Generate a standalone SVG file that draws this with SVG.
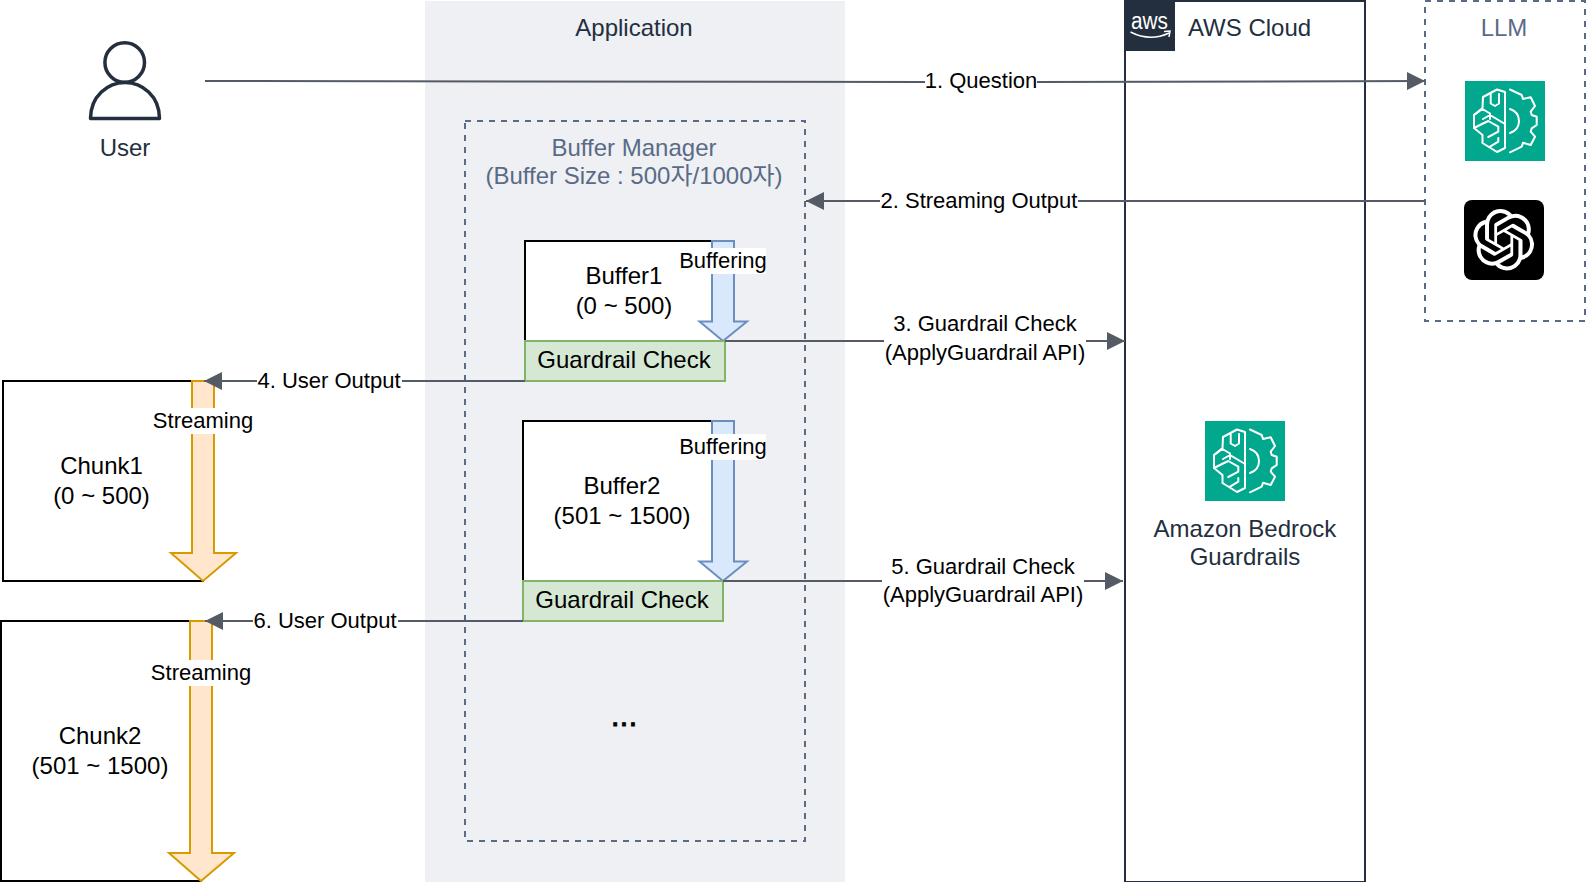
<svg xmlns="http://www.w3.org/2000/svg" width="1586" height="882" viewBox="0 0 1586 882">
<style>
text{font-family:"Liberation Sans","Noto Sans CJK KR",Arial,sans-serif;font-size:24px;fill:#000;text-anchor:middle}
.lb{font-size:22px}
.dk{fill:#232f3e}
.sl{fill:#5a6b86}
.box{fill:#fff;stroke:#000;stroke-width:2}
.grn{fill:#d5e8d4;stroke:#82b366;stroke-width:2}
.blu{fill:#dae8fc;stroke:#6c8ebf;stroke-width:2}
.org{fill:#ffe6cc;stroke:#d79b00;stroke-width:2}
.dash{fill:none;stroke:#5a6b86;stroke-width:2;stroke-dasharray:6 6}
.con{fill:none;stroke:#545b64;stroke-width:2}
.wb{fill:#fff}
.ic{fill:none;stroke:#fff;stroke-width:2;stroke-linejoin:round;stroke-linecap:round}
</style>
<defs>
<marker id="ah" markerUnits="userSpaceOnUse" markerWidth="18" markerHeight="18" refX="18" refY="9" orient="auto"><path d="M0 0L18 9L0 18z" fill="#545b64"/></marker>
<symbol id="brain" viewBox="0 0 80 80" overflow="visible">
<rect width="80" height="80" fill="#01a88d"/>
<path class="ic" d="M40 11L32 8.500L18 16L17.500 27L9 34V47L17.500 54V62L32 71L40 67V11"/>
<path class="ic" d="M25.700 13V22.500L30 25L34 22.500V13M9 34L17.500 28L25 32.500V38M18 38L25 34L40 43M9 47L17 43L23.300 40L33.300 45.700V50.700L23.300 56M25 65.700L33.300 60.700V57"/>
<path class="ic" d="M45 8.500L56.700 14L58 18L65.700 16.300L70 25L65.700 30.700L66.700 34L71.700 35.700V44L66.700 47.300L65.700 50.700L70 55.700L65.700 64L58 61.700L56.700 65.700L45 71.300"/>
<path class="ic" d="M45 28Q54 31 54 40Q54 49 45 52"/>
</symbol>
</defs>
<g id="application"><rect x="425" y="1" width="420" height="881" fill="#eef0f4"/><text class="dk" x="634" y="36">Application</text></g>
<g id="buffer-manager"><rect class="dash" x="465" y="121" width="340" height="720"/><text class="sl" x="634" y="156">Buffer Manager</text><text class="sl" x="634" y="184">(Buffer Size : 500자/1000자)</text><text x="624" y="726" style="font-size:32px;stroke:#000;stroke-width:.8">...</text></g>
<g id="user">
<circle cx="124.700" cy="62.500" r="19.800" fill="none" stroke="#232f3e" stroke-width="3.500"/>
<path d="M90.500 118.500C90.500 96 108 82.500 125 82.500C142 82.500 159.500 96 159.500 118.500Z" fill="none" stroke="#232f3e" stroke-width="3.500" stroke-linejoin="round"/>
<text class="dk" x="125" y="156">User</text>
</g>
<g id="aws-cloud">
<rect x="1125" y="1" width="240" height="881" fill="#fff" stroke="#232f3e" stroke-width="2"/>
<rect x="1124" y="0" width="51" height="51" fill="#232f3e"/>
<text x="1149.500" y="29" style="fill:#fff;font-size:23px" textLength="37" lengthAdjust="spacingAndGlyphs">aws</text>
<path d="M1130.500 32Q1150 42 1169 33M1164 31.500L1170 31L1169 37" fill="none" stroke="#fff" stroke-width="1.500"/>
<text class="dk" x="1188" y="36" style="text-anchor:start">AWS Cloud</text>
</g>
<g id="llm">
<rect class="dash" x="1425" y="1" width="160" height="320"/>
<text class="sl" x="1504" y="36">LLM</text>
</g>
<g id="llm-bedrock-icon"><use href="#brain" x="1465" y="81" width="80" height="80"/></g>
<g id="openai-icon">
<rect x="1464" y="200" width="80" height="80" rx="8" fill="#000"/>
<path transform="translate(1473 209) scale(2.56)" fill="#fff" d="M22.2819 9.8211a5.9847 5.9847 0 0 0-.5157-4.9108 6.0462 6.0462 0 0 0-6.5098-2.9A6.0651 6.0651 0 0 0 4.9807 4.1818a5.9847 5.9847 0 0 0-3.9977 2.9 6.0462 6.0462 0 0 0 .7427 7.0966 5.98 5.98 0 0 0 .511 4.9107 6.051 6.051 0 0 0 6.5146 2.9001A5.9847 5.9847 0 0 0 13.2599 24a6.0557 6.0557 0 0 0 5.7718-4.2058 5.9894 5.9894 0 0 0 3.9977-2.9001 6.0557 6.0557 0 0 0-.7475-7.0729zm-9.022 12.6081a4.4755 4.4755 0 0 1-2.8764-1.0408l.1419-.0804 4.7783-2.7582a.7948.7948 0 0 0 .3927-.6813v-6.7369l2.02 1.1686a.071.071 0 0 1 .038.052v5.5826a4.504 4.504 0 0 1-4.4945 4.4944zm-9.6607-4.1254a4.4708 4.4708 0 0 1-.5346-3.0137l.142.0852 4.783 2.7582a.7712.7712 0 0 0 .7806 0l5.8428-3.3685v2.3324a.0804.0804 0 0 1-.0332.0615L9.74 19.9502a4.4992 4.4992 0 0 1-6.1408-1.6464zM2.3408 7.8956a4.485 4.485 0 0 1 2.3655-1.9728V11.6a.7664.7664 0 0 0 .3879.6765l5.8144 3.3543-2.0201 1.1685a.0757.0757 0 0 1-.071 0l-4.8303-2.7865A4.504 4.504 0 0 1 2.3408 7.872zm16.5963 3.8558L13.1038 8.364 15.1192 7.2a.0757.0757 0 0 1 .071 0l4.8303 2.7913a4.4944 4.4944 0 0 1-.6765 8.1042v-5.6772a.79.79 0 0 0-.407-.667zm2.0107-3.0231l-.142-.0852-4.7735-2.7818a.7759.7759 0 0 0-.7854 0L9.409 9.2297V6.8974a.0662.0662 0 0 1 .0284-.0615l4.8303-2.7866a4.4992 4.4992 0 0 1 6.6802 4.66zM8.3065 12.863l-2.02-1.1638a.0804.0804 0 0 1-.038-.0567V6.0742a4.4992 4.4992 0 0 1 7.3757-3.4537l-.142.0805L8.704 5.459a.7948.7948 0 0 0-.3927.6813zm1.0976-2.3654l2.602-1.4998 2.6069 1.4998v2.9994l-2.5974 1.4997-2.6067-1.4997Z"/>
</g>
<g id="guardrails">
<use href="#brain" x="1205" y="421" width="80" height="80"/>
<text class="dk" x="1245" y="537">Amazon Bedrock</text><text class="dk" x="1245" y="565">Guardrails</text>
</g>
<g id="buffer1">
<rect class="box" x="525" y="241" width="200" height="100"/>
<text x="624" y="284">Buffer1</text><text x="624" y="314">(0 ~ 500)</text>
<path class="blu" d="M712 241H734V321.500H747L723 341L699.500 321.500H712Z"/>
<rect class="wb" x="680" y="248" width="86" height="26"/><text class="lb" x="723" y="268">Buffering</text>
<rect class="grn" x="525" y="341" width="200" height="40"/><text x="624" y="368">Guardrail Check</text>
</g>
<g id="buffer2">
<rect class="box" x="523" y="421" width="200" height="160"/>
<text x="622" y="494">Buffer2</text><text x="622" y="524">(501 ~ 1500)</text>
<path class="blu" d="M712 421H734V561.500H747L723 581L699.500 561.500H712Z"/>
<rect class="wb" x="680" y="434" width="86" height="26"/><text class="lb" x="723" y="454">Buffering</text>
<rect class="grn" x="523" y="581" width="200" height="40"/><text x="622" y="608">Guardrail Check</text>
</g>
<g id="chunk1">
<rect class="box" x="3" y="381" width="200" height="200"/>
<text x="101.500" y="474">Chunk1</text><text x="101.500" y="504">(0 ~ 500)</text>
<path class="org" d="M192 381H214V553H236L203 581L171 553H192Z"/>
<rect class="wb" x="153" y="408" width="100" height="26"/><text class="lb" x="203" y="428">Streaming</text>
</g>
<g id="chunk2">
<rect class="box" x="1" y="621" width="200" height="260"/>
<text x="100" y="744">Chunk2</text><text x="100" y="774">(501 ~ 1500)</text>
<path class="org" d="M190 621H212V853H234L201 881L169 853H190Z"/>
<rect class="wb" x="151" y="660" width="100" height="26"/><text class="lb" x="201" y="680">Streaming</text>
</g>
<g id="connectors">
<path class="con" d="M205 81L925 82M1037 82L1425 81" marker-end="url(#ah)"/>
<rect class="wb" x="925" y="68" width="112" height="26"/><text class="lb" x="981" y="88">1. Question</text>
<path class="con" d="M1425 201H806" marker-end="url(#ah)"/>
<rect class="wb" x="880" y="188" width="198" height="26"/><text class="lb" x="979" y="208">2. Streaming Output</text>
<path class="con" d="M725 341H1125" marker-end="url(#ah)"/>
<rect class="wb" x="884" y="311" width="202" height="56"/><text class="lb" x="985" y="331">3. Guardrail Check</text><text class="lb" x="985" y="360">(ApplyGuardrail API)</text>
<path class="con" d="M525 381H204" marker-end="url(#ah)"/>
<rect class="wb" x="257" y="368" width="145" height="26"/><text class="lb" x="329" y="388">4. User Output</text>
<path class="con" d="M723 581H1123" marker-end="url(#ah)"/>
<rect class="wb" x="882" y="553" width="202" height="56"/><text class="lb" x="983" y="574">5. Guardrail Check</text><text class="lb" x="983" y="602">(ApplyGuardrail API)</text>
<path class="con" d="M523 621H205" marker-end="url(#ah)"/>
<rect class="wb" x="253" y="608" width="145" height="26"/><text class="lb" x="325" y="628">6. User Output</text>
</g>
</svg>
